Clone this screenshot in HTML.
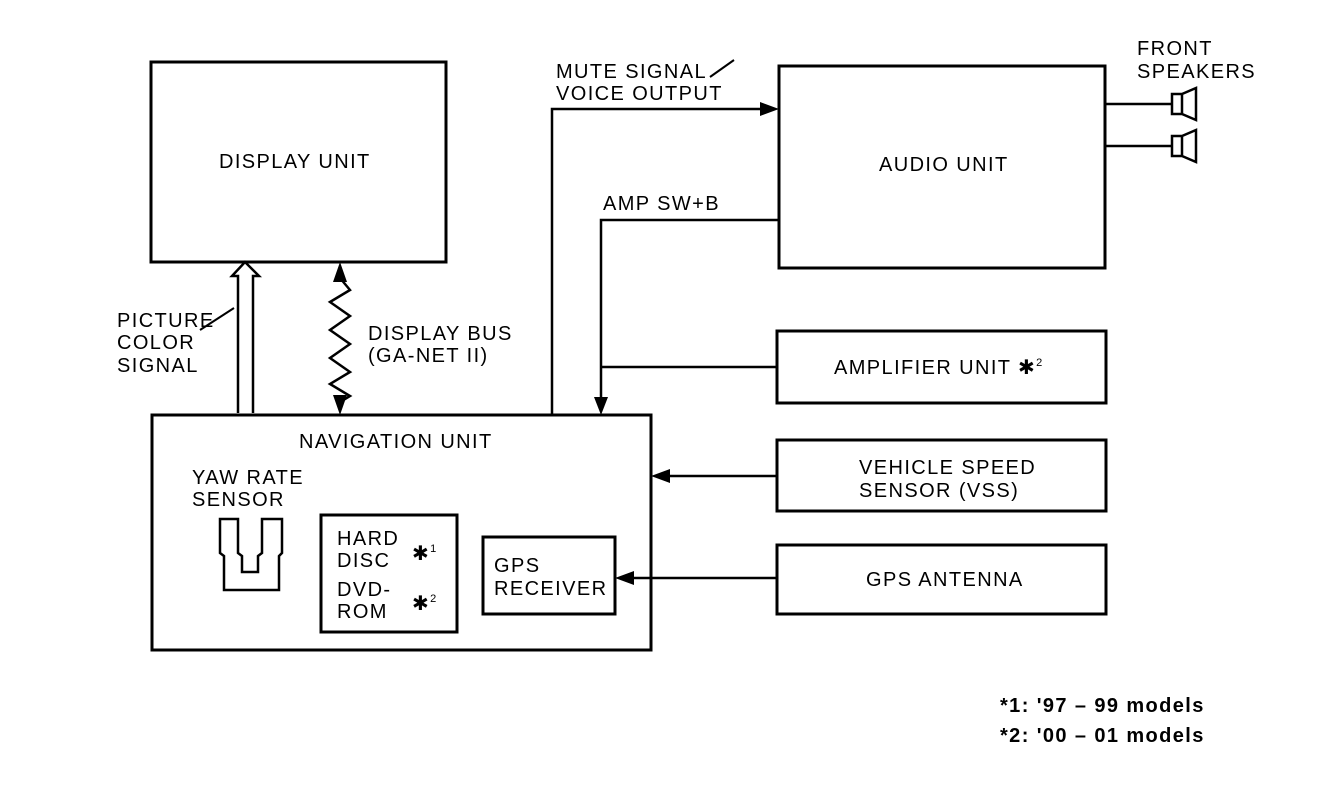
<!DOCTYPE html>
<html><head><style>
html,body{margin:0;padding:0;background:#fff;}
svg{display:block;}
text{font-family:"Liberation Sans",sans-serif;font-size:20px;letter-spacing:1.4px;fill:#000;}
</style></head><body>
<svg width="1344" height="802" viewBox="0 0 1344 802" xmlns="http://www.w3.org/2000/svg">
<g fill="none" stroke="#000" stroke-width="3">
<rect x="151" y="62" width="295" height="200"/>
<rect x="152" y="415" width="499" height="235"/>
<rect x="779" y="66" width="326" height="202"/>
<rect x="777" y="331" width="329" height="72"/>
<rect x="777" y="440" width="329" height="71"/>
<rect x="777" y="545" width="329" height="69"/>
<rect x="321" y="515" width="136" height="117"/>
<rect x="483" y="537" width="132" height="77"/>
<path d="M238,413 L238,276 L232,276 L245,262 L259,276 L253,276 L253,413" stroke-width="2.5"/>
<line x1="200" y1="330" x2="234" y2="308" stroke-width="2"/>
<path d="M340,278 L350,290 L330,302 L350,316 L330,330 L350,344 L330,358 L350,372 L330,384 L350,396 L340,402" stroke-width="2.5"/>
<polyline points="552,415 552,109 765,109" stroke-width="2.5"/>
<line x1="710" y1="77" x2="734" y2="60" stroke-width="2"/>
<polyline points="779,220 601,220 601,402" stroke-width="2.5"/>
<line x1="601" y1="367" x2="777" y2="367" stroke-width="2.5"/>
<line x1="777" y1="476" x2="665" y2="476" stroke-width="2.5"/>
<line x1="777" y1="578" x2="629" y2="578" stroke-width="2.5"/>
<line x1="1105" y1="104" x2="1172" y2="104" stroke-width="2.5"/>
<line x1="1105" y1="146" x2="1172" y2="146" stroke-width="2.5"/>
<path d="M1172,94 h10 v20 h-10 z M1182,94 l14,-6 v32 l-14,-6" stroke-width="2.5"/>
<path d="M1172,136 h10 v20 h-10 z M1182,136 l14,-6 v32 l-14,-6" stroke-width="2.5"/>
<path d="M220,519 L238,519 L238,553 L242,556 L242,572 L258,572 L258,556 L262,553 L262,519 L282,519 L282,553 L279,556 L279,590 L224,590 L224,556 L220,553 Z" stroke-width="2.5"/>
</g>
<g fill="#000">
<polygon points="340,262 333,282 347,282"/>
<polygon points="340,415 333,395 347,395"/>
<polygon points="779,109 760,102 760,116"/>
<polygon points="601,415 594,397 608,397"/>
<polygon points="651,476 670,469 670,483"/>
<polygon points="615,578 634,571 634,585"/>
</g>
<text x="219" y="168">DISPLAY UNIT</text>
<text x="879" y="171">AUDIO UNIT</text>
<text x="834" y="374">AMPLIFIER UNIT &#x2731;<tspan font-size="11" dy="-8">2</tspan></text>
<text x="859" y="474">VEHICLE SPEED</text>
<text x="859" y="497">SENSOR (VSS)</text>
<text x="866" y="586">GPS ANTENNA</text>
<text x="556" y="78">MUTE SIGNAL</text>
<text x="556" y="100">VOICE OUTPUT</text>
<text x="603" y="210">AMP SW+B</text>
<text x="1137" y="55">FRONT</text>
<text x="1137" y="78">SPEAKERS</text>
<text x="117" y="327">PICTURE</text>
<text x="117" y="349">COLOR</text>
<text x="117" y="372">SIGNAL</text>
<text x="368" y="340">DISPLAY BUS</text>
<text x="368" y="362">(GA-NET II)</text>
<text x="299" y="448">NAVIGATION UNIT</text>
<text x="192" y="484">YAW RATE</text>
<text x="192" y="506">SENSOR</text>
<text x="337" y="545">HARD</text>
<text x="337" y="567">DISC</text>
<text x="337" y="596">DVD-</text>
<text x="337" y="618">ROM</text>
<text x="412" y="560">&#x2731;<tspan font-size="11" dy="-8">1</tspan></text>
<text x="412" y="610">&#x2731;<tspan font-size="11" dy="-8">2</tspan></text>
<text x="494" y="572">GPS</text>
<text x="494" y="595">RECEIVER</text>
<text x="1000" y="712" font-weight="bold" letter-spacing="0.5">*1: '97 – 99 models</text>
<text x="1000" y="742" font-weight="bold" letter-spacing="0.5">*2: '00 – 01 models</text>
</svg>
</body></html>
